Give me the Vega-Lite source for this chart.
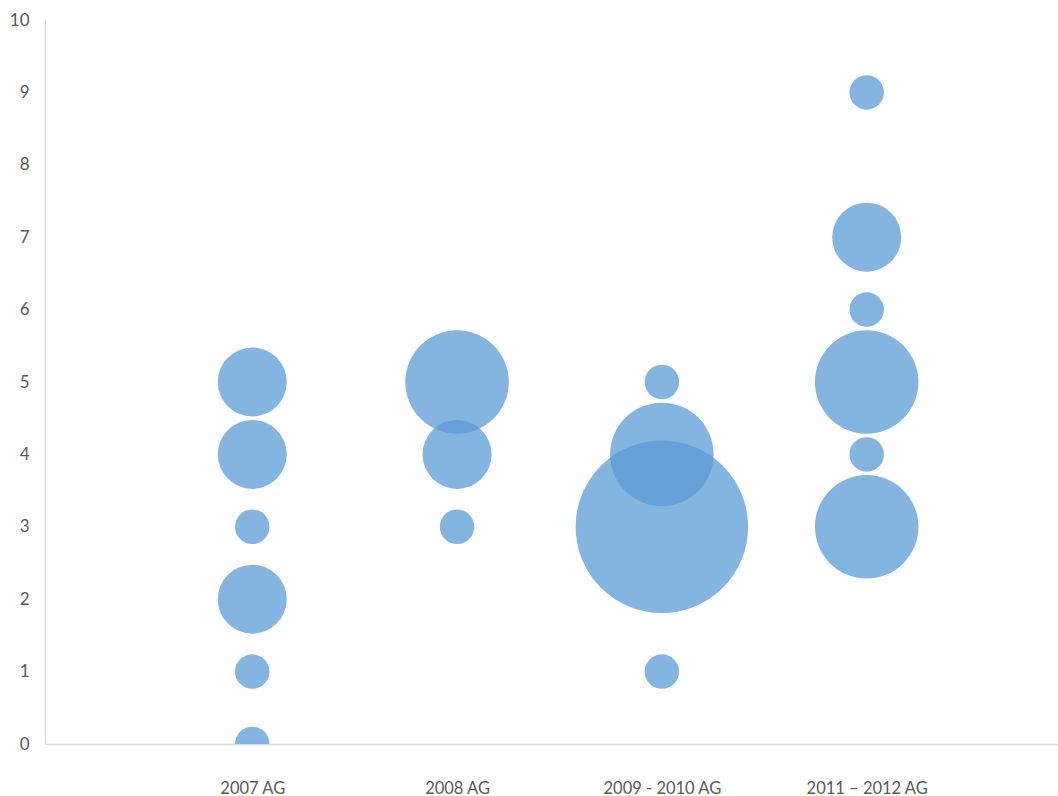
{
  "$schema": "https://vega.github.io/schema/vega-lite/v6.json",
  "autosize": {"type": "none"},
  "width": 1013,
  "height": 724,
  "padding": {"left": 45, "top": 20, "right": 0, "bottom": 52},
  "background": "white",
  "config": {"view": {"stroke": null}, "font": "Lato"},
  "data": {
    "values": [
      {"period": "2007 AG", "score": 5, "count": 2},
      {"period": "2007 AG", "score": 4, "count": 2},
      {"period": "2007 AG", "score": 3, "count": 1},
      {"period": "2007 AG", "score": 2, "count": 2},
      {"period": "2007 AG", "score": 1, "count": 1},
      {"period": "2007 AG", "score": 0, "count": 1},
      {"period": "2008 AG", "score": 5, "count": 3},
      {"period": "2008 AG", "score": 4, "count": 2},
      {"period": "2008 AG", "score": 3, "count": 1},
      {"period": "2009 - 2010 AG", "score": 5, "count": 1},
      {"period": "2009 - 2010 AG", "score": 4, "count": 3},
      {"period": "2009 - 2010 AG", "score": 3, "count": 5},
      {"period": "2009 - 2010 AG", "score": 1, "count": 1},
      {"period": "2011 – 2012 AG", "score": 9, "count": 1},
      {"period": "2011 – 2012 AG", "score": 7, "count": 2},
      {"period": "2011 – 2012 AG", "score": 6, "count": 1},
      {"period": "2011 – 2012 AG", "score": 5, "count": 3},
      {"period": "2011 – 2012 AG", "score": 4, "count": 1},
      {"period": "2011 – 2012 AG", "score": 3, "count": 3}
    ]
  },
  "mark": {"type": "circle", "color": "#5B9BD5", "opacity": 0.75, "clip": true},
  "encoding": {
    "x": {
      "field": "period",
      "type": "ordinal",
      "sort": null,
      "scale": {"type": "point", "padding": 0.973, "align": 0.52},
      "axis": {
        "title": null,
        "labelAngle": 0,
        "ticks": false,
        "domainColor": "#D9D9D9",
        "domainWidth": 1.3,
        "labelColor": "#595959",
        "labelFontSize": 16.5,
        "labelPadding": 36,
        "grid": false
      }
    },
    "y": {
      "field": "score",
      "type": "quantitative",
      "scale": {"domain": [0, 10], "nice": false},
      "axis": {
        "title": null,
        "values": [0,1,2,3,4,5,6,7,8,9,10],
        "ticks": false,
        "grid": false,
        "domainColor": "#D9D9D9",
        "domainWidth": 1.3,
        "labelColor": "#595959",
        "labelFontSize": 17,
        "labelPadding": 16
      }
    },
    "size": {
      "field": "count",
      "type": "quantitative",
      "scale": {"type": "pow", "exponent": 2, "domain": [0, 5], "range": [0, 29756]},
      "legend": null
    }
  }
}
